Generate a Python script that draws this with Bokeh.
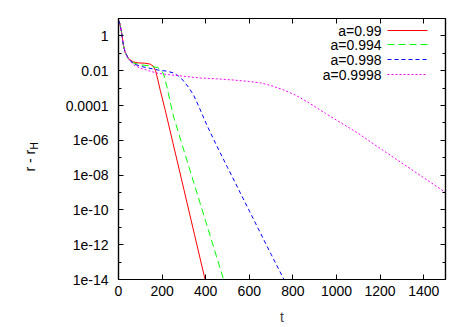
import math
from bokeh.plotting import figure
from bokeh.layouts import row
from bokeh.models import (FixedTicker, CustomJSTickFormatter, LogAxis, LinearAxis,
                          Label, Arrow, Range1d)
from bokeh.embed import file_html
from bokeh.resources import INLINE

# ---- data ----
t_a0990 = [0, 6, 14, 22, 30, 45, 68, 90, 120, 145, 160, 170, 180, 192, 215, 250, 300, 350, 400]
r_a0990 = [7.9, 5.2, 1.6, 0.32, 0.12, 0.05, 0.032, 0.028, 0.027, 0.024, 0.018, 0.01, 3.2e-3,
           7.1e-4, 5.0e-5, 6.8e-7, 1.5e-9, 3.2e-12, 6.9e-15]

t_a0994 = [0, 6, 14, 22, 30, 45, 68, 100, 140, 180, 195, 207, 223, 240, 254, 300, 350, 400, 450, 485]
r_a0994 = [7.9, 5.2, 1.6, 0.32, 0.12, 0.05, 0.028, 0.022, 0.019, 0.015, 0.011, 6.3e-3, 1.1e-3,
           1.1e-4, 2.0e-5, 2.6e-7, 2.4e-9, 2.2e-11, 2.0e-13, 7.6e-15]

t_a0998 = [0, 6, 14, 22, 30, 45, 68, 100, 140, 180, 220, 250, 275, 291, 322, 346, 370, 408, 450,
           500, 562, 600, 700, 765]
r_a0998 = [7.9, 5.2, 1.6, 0.32, 0.12, 0.05, 0.025, 0.018, 0.014, 0.011, 9.5e-3, 7.6e-3, 5.0e-3,
           3.3e-3, 1.1e-3, 3.6e-4, 7.9e-5, 6.3e-6, 5.0e-7, 2.8e-8, 7.9e-10, 8.9e-11, 2.8e-13, 7.1e-15]

t_a09998 = [0, 6, 14, 22, 30, 45, 68, 100, 138, 180, 230, 300, 375, 450, 528, 600, 650, 700, 750,
            811, 867, 950, 1021, 1100, 1175, 1250, 1329, 1400, 1500]
r_a09998 = [7.9, 5.2, 1.6, 0.32, 0.12, 0.05, 0.022, 0.014, 0.01, 7.1e-3, 5.9e-3, 4.8e-3, 3.8e-3,
            3.4e-3, 2.9e-3, 2.4e-3, 2.0e-3, 1.4e-3, 8.5e-4, 4.0e-4, 1.6e-4, 3.5e-5, 1.0e-5, 2.5e-6,
            5.6e-7, 1.3e-7, 2.8e-8, 7.1e-9, 1.0e-9]

series_names = ["a=0.99", "a=0.994", "a=0.998", "a=0.9998"]

x_ticks = [0, 200, 400, 600, 800, 1000, 1200, 1400]
y_ticks = [1e-14, 1e-12, 1e-10, 1e-08, 1e-06, 1e-04, 1e-02, 1]
y_tick_labels = ["1e-14", "1e-12", "1e-10", "1e-08", "1e-06", "0.0001", "0.01", "1"]
y_minor_ticks = [1e-13, 1e-11, 1e-09, 1e-07, 1e-05, 1e-03, 1e-01, 10]

# ---- styling ----
FONT = "Liberation Sans"
FS = "14px"
colors = ["#ff0000", "#00ff00", "#0000ff", "#ff00ff"]
dashes = ["solid", "7 4", "4 3", "2 2"]

# narrow panel holding the rotated y-axis title  r - r_H
lab = figure(frame_width=60, frame_height=327, x_range=(0, 60), y_range=(0, 327),
             x_axis_location=None, y_axis_location=None, output_backend="svg",
             toolbar_location=None, min_border=0)
lab.outline_line_color = None
lab.xgrid.visible = False
lab.ygrid.visible = False
lab.add_layout(Label(x=29, y=174, x_units="screen", y_units="screen", text="r - r",
                     angle=math.pi / 2, text_align="left", text_baseline="middle",
                     text_font=FONT, text_font_size=FS, text_color="black"))
lab.add_layout(Label(x=34, y=196, x_units="screen", y_units="screen", text="H",
                     angle=math.pi / 2, text_align="left", text_baseline="middle",
                     text_font=FONT, text_font_size="10px", text_color="black"))

p = figure(frame_width=327, frame_height=261,
           x_range=Range1d(0, 1500), y_range=Range1d(1e-14, 10),
           y_axis_type="log", output_backend="svg", toolbar_location=None,
           min_border_left=58, min_border_right=22, min_border_top=18, min_border_bottom=48)
p.background_fill_color = "white"
p.border_fill_color = "white"
p.outline_line_color = "black"
p.outline_line_width = 1.2
p.xgrid.visible = False
p.ygrid.visible = False

bottom = p.below[0]
left = p.left[0]

xt = FixedTicker(ticks=x_ticks, minor_ticks=[])
yt = FixedTicker(ticks=y_ticks, minor_ticks=y_minor_ticks)

yfmt = CustomJSTickFormatter(args=dict(vals=y_ticks, labs=y_tick_labels), code="""
for (let i = 0; i < vals.length; i++) {
  if (Math.abs(Math.log10(tick) - Math.log10(vals[i])) < 0.01) return labs[i];
}
return "";
""")

bottom.ticker = xt
left.ticker = yt
left.formatter = yfmt

top = LinearAxis(ticker=xt, major_label_text_alpha=0, major_label_text_font_size="1px")
right = LogAxis(ticker=yt, major_label_text_alpha=0, major_label_text_font_size="1px")
p.add_layout(top, "above")
p.add_layout(right, "right")

for ax in (bottom, left, top, right):
    ax.major_tick_in = 5
    ax.major_tick_out = 0
    ax.minor_tick_in = 3
    ax.minor_tick_out = 0
    ax.axis_line_color = "black"
    ax.axis_line_width = 1.2
    ax.major_tick_line_color = "black"
    ax.minor_tick_line_color = "black"
    ax.major_label_text_font = FONT

for ax in (bottom, left):
    ax.major_label_text_font_size = FS
    ax.major_label_text_color = "black"
bottom.major_label_standoff = 6
left.major_label_standoff = 10
bottom.axis_label = "t"
bottom.axis_label_text_font = FONT
bottom.axis_label_text_font_size = FS
bottom.axis_label_text_font_style = "normal"
bottom.axis_label_standoff = 10

# ---- curves ----
data = [(t_a0990, r_a0990), (t_a0994, r_a0994), (t_a0998, r_a0998), (t_a09998, r_a09998)]
for (tt, rr), c, d in zip(data, colors, dashes):
    p.line(tt, rr, line_color=c, line_width=1, line_dash=d)

# ---- legend (text first, then sample, gnuplot style) ----
row_y = [249, 235, 220, 205]
for name, c, d, yy in zip(series_names, colors, dashes, row_y):
    p.add_layout(Label(x=263, y=yy, x_units="screen", y_units="screen", text=name,
                       text_align="right", text_baseline="middle",
                       text_font=FONT, text_font_size=FS, text_color="black"))
    p.add_layout(Arrow(end=None, x_start=269, y_start=yy, x_end=309, y_end=yy,
                       start_units="screen", end_units="screen",
                       line_color=c, line_width=1, line_dash=d))

layout = row(lab, p, spacing=0)
open("out.html", "w").write(file_html(layout, INLINE))
